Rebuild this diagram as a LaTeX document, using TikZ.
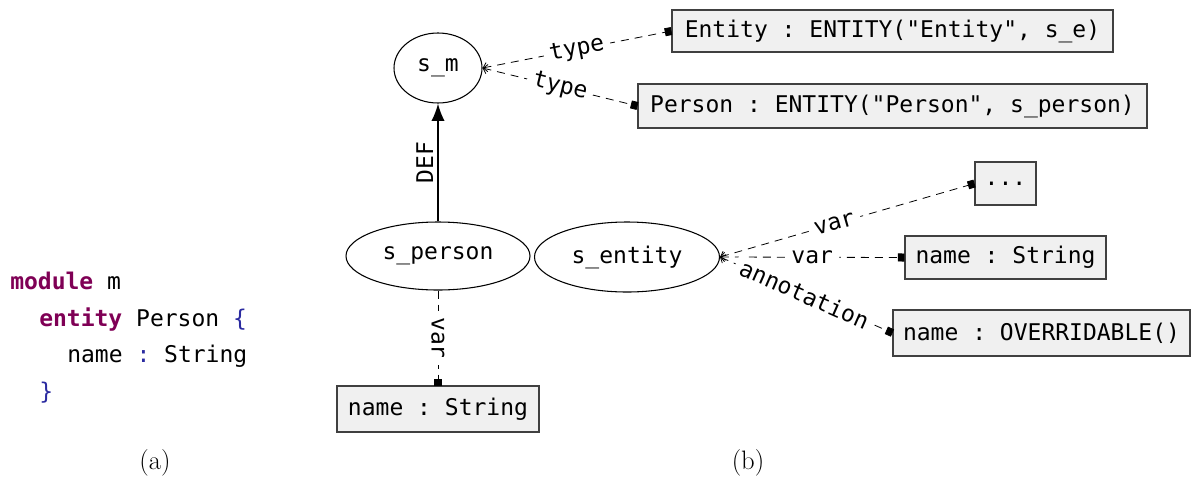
\documentclass[tikz,border=0pt]{standalone}
\usepackage{fontspec}
\setmonofont{DejaVu Sans Mono}
\usetikzlibrary{shapes.geometric,arrows.meta}
\definecolor{kw}{HTML}{7F0055}
\definecolor{bl}{HTML}{2A2AA0}
\definecolor{boxfill}{HTML}{F0F0F0}
\definecolor{boxdraw}{HTML}{404040}
\begin{document}
\begin{tikzpicture}[x=0.75pt,y=-0.75pt,
  mono/.style={font=\fontsize{17.25}{20}\selectfont\ttfamily},
  ell/.style={ellipse, draw, line width=0.8pt, mono, inner sep=0pt},
  val/.style={rectangle, draw=boxdraw, fill=boxfill, line width=0.8pt, mono, inner sep=0pt},
  rel/.style={dash pattern=on 6pt off 4.5pt, line width=0.6pt, {Straight Barb[length=3pt,width=7pt]}-{Square[length=5pt,width=6pt]}},
  lbl/.style={mono, fill=white, inner xsep=4.5pt, inner ysep=1pt, midway, sloped},
  codeln/.style={mono, anchor=base west, inner sep=0pt},
  captxt/.style={font=\fontsize{20}{24}\selectfont}
]
\useasboundingbox (0,0) rectangle (1191,479);

% code listing
\node[codeln] (c1) at (10,289) {\textcolor{kw}{\bfseries module} m};
\node[codeln] (c2) at (39,326) {\textcolor{kw}{\bfseries entity} Person \textcolor{bl}{\{}};
\node[codeln] (c3) at (67,362) {name \textcolor{bl}{:} String};
\node[codeln] (c4) at (39,399) {\textcolor{bl}{\}}};

% scopes
\node[ell, minimum width=66pt, minimum height=52.5pt] (sm) at (438,68) {s\_m};
\node[ell, minimum width=138pt, minimum height=51pt] (sperson) at (438,256) {s\_person};
\node[ell, minimum width=138.75pt, minimum height=52.5pt] (sentity) at (627,257) {s\_entity};

% values
\node[val, minimum width=330.75pt, minimum height=31.5pt] (ent) at (892.5,31) {Entity : ENTITY("Entity", s\_e)};
\node[val, minimum width=381.75pt, minimum height=33pt] (per) at (892.5,106) {Person : ENTITY("Person", s\_person)};
\node[val, minimum width=45.75pt, minimum height=32.25pt] (dots) at (1005.5,183.5) {...};
\node[val, minimum width=150.75pt, minimum height=32.25pt] (nm1) at (1005.5,257.5) {name : String};
\node[val, minimum width=222.75pt, minimum height=34.5pt] (ovr) at (1041.5,333) {name : OVERRIDABLE()};
\node[val, minimum width=151.5pt, minimum height=34.5pt] (nm2) at (438,409) {name : String};

% edges
\draw[-{Latex[length=13pt,width=10pt]}, line width=1.4pt] (sperson.north) -- node[mono, midway, sloped, above, inner sep=3pt] (ldef) {DEF} (sm.south);
\draw[rel] (sm.east) -- node[lbl] (lt1) {type} (ent.west);
\draw[rel] (sm.east) -- node[lbl] (lt2) {type} (per.west);
\draw[rel] (sentity.east) -- node[lbl, pos=0.45] (lv1) {var} (dots.west);
\draw[rel] (sentity.east) -- node[lbl] (lv2) {var} (nm1.west);
\draw[rel] (sentity.east) -- node[lbl, pos=0.49] (lan) {annotation} (ovr.west);
\draw[dash pattern=on 6pt off 4.5pt, line width=0.6pt, -{Square[length=5pt,width=6pt]}] (sperson.south) -- node[mono, fill=white, inner xsep=4.5pt, inner ysep=1pt, midway, rotate=-90] (lv3) {var} (nm2.north);

% captions
\node[captxt] (capa) at (155,463) {(a)};
\node[captxt] (capb) at (748,463) {(b)};
\end{tikzpicture}
\end{document}
